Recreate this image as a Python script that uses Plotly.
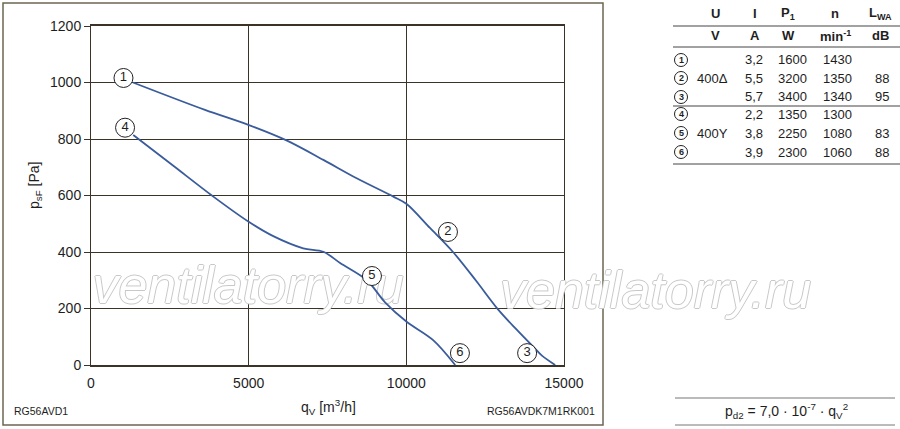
import plotly.graph_objects as go

# curve 1-2-3 (400 V delta) and 4-5-6 (400 V star)
qv_a = [1330, 3615, 4990, 6200, 7370, 8425, 9590, 10010, 10750, 11480, 12200, 12900, 13500, 14020, 14300, 14720]
ps_a = [1000, 903, 850, 795, 726, 661, 596, 570, 485, 400, 300, 198, 125, 65, 33, 0]
qv_b = [1340, 2600, 3880, 5000, 5780, 6730, 7370, 7900, 8750, 9325, 10010, 10850, 11550]
ps_b = [814, 706, 596, 507, 456, 413, 401, 361, 300, 222, 153, 88, 0]

# circled point labels
lbl_txt = ["1", "2", "3", "4", "5", "6"]
lbl_x = [1030, 11320, 13830, 1080, 8910, 11700]
lbl_y = [1016, 471, 42, 840, 315, 42]

# table
tbl_head = ["U", "I", "P<sub>1</sub>", "n", "L<sub>WA</sub>"]
tbl_unit = ["V", "A", "W", "min<sup>-1</sup>", "dB"]
tbl_no = ["1", "2", "3", "4", "5", "6"]
tbl_u = ["", "400Δ", "", "", "400Y", ""]
tbl_i = ["3,2", "5,5", "5,7", "2,2", "3,8", "3,9"]
tbl_p = ["1600", "3200", "3400", "1350", "2250", "2300"]
tbl_n = ["1430", "1350", "1340", "1300", "1080", "1060"]
tbl_l = ["", "88", "95", "", "83", "88"]

W, H = 900, 429
L, R, T, B = 91, 564, 26, 365
XMAX, YMAX = 15000, 1200


def px(x):
    return (x - L) / (R - L)


def py(y):
    return (B - y) / (B - T)


FONT = "Liberation Sans, Arial, sans-serif"
BLUE = "#3a5c9c"
GRID = "#3b3326"
FRAME = "#6e6553"
TXT = "#1e1e1e"
WM_FONT = dict(family=FONT, size=52, color="white", style="italic",
               shadow="-1px 0 #c8c8c8, 1px 0 #c8c8c8, 0 1px #c8c8c8, 0 -1px #c8c8c8")


def note(x, y, text, size, anchor="center", **kw):
    return dict(x=px(x), y=py(y), xref="paper", yref="paper", text=text, showarrow=False,
                xanchor=anchor, yanchor="middle", font=dict(family=FONT, size=size, color=TXT), **kw)


fig = go.Figure()

# watermark inside the plot, drawn first so the curves sit on top of it
fig.add_trace(go.Scatter(x=[px(248) * XMAX], y=[py(290) * YMAX], mode="text",
                         text=["ventilatorry.ru"], textposition="middle center", textfont=WM_FONT,
                         cliponaxis=False, hoverinfo="skip"))

fig.add_trace(go.Scatter(x=qv_a, y=ps_a, mode="lines", line=dict(color=BLUE, width=1.8, shape="spline", smoothing=0.9),
                         hoverinfo="skip"))
fig.add_trace(go.Scatter(x=qv_b, y=ps_b, mode="lines", line=dict(color=BLUE, width=1.8, shape="spline", smoothing=0.9),
                         hoverinfo="skip"))
fig.add_trace(go.Scatter(x=lbl_x, y=lbl_y, mode="markers+text", text=lbl_txt, textposition="middle center",
                         textfont=dict(family=FONT, size=13, color=TXT),
                         marker=dict(size=19, color="white", line=dict(color="#222", width=1)),
                         cliponaxis=False, hoverinfo="skip"))

ann = []
shapes = []

# second watermark, outside the plot area
wm = note(655, 290, "ventilatorry.ru", 52)
wm["font"] = WM_FONT
ann.append(wm)

# axis titles and footers
ann.append(note(35, 186, "p<sub>sF</sub> [Pa]", 14, textangle=-90))
ann.append(note(328, 407, "q<sub>V</sub> [m<sup>3</sup>/h]", 14))
ann.append(note(12, 411, "RG56AVD1", 10.5, anchor="left"))
ann.append(note(597, 411, "RG56AVDK7M1RK001", 10.5, anchor="right"))
ann.append(note(786, 411, "p<sub>d2</sub> = 7,0 · 10<sup>-7</sup> · q<sub>V</sub><sup>2</sup>", 14))

# outer frame
shapes.append(dict(type="rect", xref="paper", yref="paper", x0=px(3), x1=px(603), y0=py(3), y1=py(425),
                   line=dict(color=FRAME, width=1.5)))
for yy in [398, 425]:
    shapes.append(dict(type="line", xref="paper", yref="paper", x0=px(675), x1=px(895), y0=py(yy), y1=py(yy),
                       line=dict(color="#777", width=1)))

# table
head_x = [715, 755, 788, 835, 880]
col_x = [712, 754, 792, 837, 882]
for i, h in enumerate(tbl_head):
    ann.append(note(head_x[i], 14, "<b>%s</b>" % h, 13))
    ann.append(note(head_x[i], 36, "<b>%s</b>" % tbl_unit[i], 13))
row_y = [60, 78, 97, 114, 133, 152]
for r in range(6):
    shapes.append(dict(type="circle", xref="paper", yref="paper", x0=px(674.5), x1=px(687.5),
                       y0=py(row_y[r] - 6.5), y1=py(row_y[r] + 6.5), line=dict(color="#222", width=1)))
    ann.append(note(681, row_y[r], "<b>%s</b>" % tbl_no[r], 9))
    vals = [tbl_u[r], tbl_i[r], tbl_p[r], tbl_n[r], tbl_l[r]]
    for c, v in enumerate(vals):
        if v:
            ann.append(note(col_x[c], row_y[r], v, 13))
for yy, w in [(26, 1), (47, 1), (106, 1.2), (164, 1)]:
    shapes.append(dict(type="line", xref="paper", yref="paper", x0=px(673), x1=px(900), y0=py(yy), y1=py(yy),
                       line=dict(color="#444", width=w)))

fig.update_layout(
    width=W, height=H, autosize=False,
    margin=dict(l=L, r=W - R, t=T, b=H - B),
    paper_bgcolor="white", plot_bgcolor="white",
    showlegend=False,
    annotations=ann, shapes=shapes,
    font=dict(family=FONT, size=14, color=TXT),
)
fig.update_xaxes(range=[0, XMAX], tickvals=[0, 5000, 10000, 15000], ticktext=["0", "5000", "10000", "15000"],
                 showgrid=True, gridcolor=GRID, gridwidth=1, zeroline=False,
                 showline=True, linecolor=GRID, linewidth=2, mirror=True, ticks="", ticklabelstandoff=4)
fig.update_yaxes(range=[0, YMAX], tickvals=[0, 200, 400, 600, 800, 1000, 1200],
                 showgrid=True, gridcolor=GRID, gridwidth=1, zeroline=False,
                 showline=True, linecolor=GRID, linewidth=1, mirror=True, ticks="outside", ticklen=6,
                 tickcolor=GRID)

fig.write_html("out.html", config={"displayModeBar": False},
               post_script="document.body.style.margin='0';")
